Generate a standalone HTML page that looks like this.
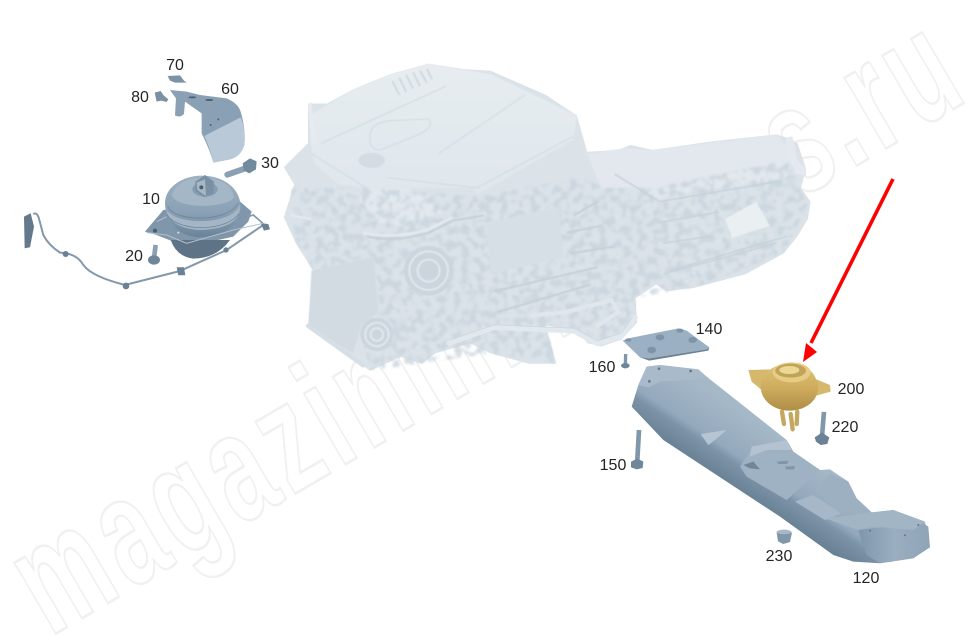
<!DOCTYPE html>
<html><head><meta charset="utf-8"><style>
html,body{margin:0;padding:0;background:#fff}
svg{display:block}
.l{font:16px "Liberation Sans",sans-serif;fill:#252525;text-anchor:middle}
</style></head><body>
<svg width="975" height="644" viewBox="0 0 975 644" xmlns="http://www.w3.org/2000/svg">
<defs>
<linearGradient id="bar" gradientUnits="userSpaceOnUse" x1="400" y1="488" x2="510" y2="322"><stop offset="0" stop-color="#6a8296"/><stop offset=".3" stop-color="#7d94a8"/><stop offset=".42" stop-color="#94a9bc"/><stop offset="1" stop-color="#a5b8c8"/></linearGradient>
<linearGradient id="end" x1="0" y1="0" x2="1" y2="0"><stop offset="0" stop-color="#7f96aa"/><stop offset=".5" stop-color="#9aaec0"/><stop offset="1" stop-color="#8ea4b7"/></linearGradient>
<linearGradient id="gold" x1="0" y1="0" x2="0" y2="1"><stop offset="0" stop-color="#e0c479"/><stop offset=".55" stop-color="#cdaa5c"/><stop offset="1" stop-color="#ae8e46"/></linearGradient>
<linearGradient id="dome" x1="0" y1="0" x2="0" y2="1"><stop offset="0" stop-color="#9db0c1"/><stop offset=".6" stop-color="#8aa1b5"/><stop offset="1" stop-color="#6b8398"/></linearGradient>
<linearGradient id="eng" x1="0" y1="0" x2="0" y2="1"><stop offset="0" stop-color="#e6ecf0"/><stop offset="1" stop-color="#e0e7ec"/></linearGradient>
<filter id="soft" x="-5%" y="-5%" width="110%" height="110%"><feGaussianBlur stdDeviation="1.8"/></filter>
<filter id="mot" x="0" y="0" width="100%" height="100%">
<feTurbulence type="fractalNoise" baseFrequency=".045" numOctaves="2" seed="7" result="n"/>
<feColorMatrix in="n" type="matrix" values="0 0 0 0 0  0 0 0 0 0  0 0 0 0 0  0 0 0 5 -2.2" result="a"/>
<feComposite in="SourceGraphic" in2="a" operator="in"/>
<feGaussianBlur stdDeviation="3"/>
</filter>
</defs>
<rect width="975" height="644" fill="#fff"/>

<!-- watermark -->
<g transform="translate(50,637) rotate(-30.3) scale(1,1.6)">
<text x="0" y="0" font-family="Liberation Sans, sans-serif" font-weight="bold" font-size="97" textLength="1065" lengthAdjust="spacing" fill="#fff" stroke="#f0f0f0" stroke-width="1.6">magazinmmmmes.ru</text>
</g>

<!-- engine + transmission -->
<g transform="translate(270,50) scale(.3448)">
<path fill="#dbe3e9" d="M110 155L165 155 240 115 350 70 460 40 560 55 640 60 800 130 890 190 920 295 1010 290 1045 275 1110 290 1280 265 1470 245 1500 255 1530 270 1555 345 1540 400 1568 440 1560 490 1530 540 1490 590 1380 650 1230 690 1150 700 1120 680 1060 720 1065 790 1020 840 960 860 920 850 890 810 800 800 830 910 750 910 640 880 580 850 480 880 440 910 380 890 290 930 230 890 110 800 125 640 75 560 40 485 70 390 40 340 110 270Z"/>
<g filter="url(#soft)">
<path fill="url(#eng)" d="M120 290L115 190 240 115 350 70 460 40 640 70 890 190 880 260 600 420 590 400 280 400 200 390 130 330Z"/>
<path fill="#e3e9ee" d="M280 400L400 400 500 470 380 510 300 500 260 430Z"/>
<path fill="#e2e8ed" d="M920 300L1030 285 1110 290 1470 245 1510 290 1510 370 1300 400 1130 430 1050 400 960 400Z"/>
<path fill="none" stroke="#cdd7df" stroke-width="5" d="M355 90L375 130M375 80L395 122M395 72L415 112M415 65L435 105M435 60L455 95M455 55L470 85"/>
<path fill="none" stroke="#d5dee5" stroke-width="4" d="M150 270L510 105M290 250Q290 210 350 205L460 200Q480 225 420 250L320 290Q285 290 290 250M490 300L740 130M600 400L880 250M280 400L120 300M340 370L600 400"/>
<ellipse cx="295" cy="320" rx="38" ry="22" fill="#d3dce3"/>
</g>
<!-- soft mottled detail, lower engine -->
<path filter="url(#mot)" fill="#c7d2db" opacity=".75" d="M60 400L280 400 600 425 900 370 970 400 1110 400 1500 320 1560 450 1490 590 1230 690 1060 720 1060 790 960 860 890 810 800 800 830 910 640 880 440 910 290 930 260 800 320 760 300 600 125 640 75 560Z"/>
<g filter="url(#soft)">
<path fill="#d2dbe2" d="M120 640L300 600 315 760 265 800 240 880 112 800Z"/>
<path fill="#d6dfe6" d="M630 500L840 455 850 600 640 650Z"/>
<circle cx="460" cy="640" r="72" fill="#cbd5de"/><circle cx="310" cy="825" r="48" fill="#cbd5de"/>
<g fill="none" stroke="#e0e7ec" stroke-width="6"><circle cx="460" cy="640" r="56"/><circle cx="460" cy="640" r="32"/><circle cx="310" cy="825" r="34"/><circle cx="310" cy="825" r="18"/></g>
<path fill="#eaeff2" d="M1320 490L1410 440 1450 510 1340 545Z"/>
<path fill="none" stroke="#c5d0da" stroke-width="4" d="M1000 360L1130 440M1130 440L1480 380M1160 640L1500 540M1140 650L1470 560M1130 500L1300 470M1140 560L1280 540"/>
<path fill="none" stroke="#c5d0da" stroke-width="6" d="M280 540Q360 560 460 530L530 495 620 480M880 480L950 440M860 530L960 510M870 590L1000 570M650 700L950 630M660 760L930 680"/>
<path fill="none" stroke="#e3e9ee" stroke-width="8" d="M60 480L120 490M270 530Q360 550 460 520L530 485"/>
</g>
<path fill="none" stroke="#e2e9ee" stroke-width="14" stroke-linecap="round" d="M520 850L650 805 880 815 950 852 1020 830 1060 775"/>
<path fill="none" stroke="#c9d4dd" stroke-width="2" d="M520 842L650 797 880 807 950 843 1020 820 1052 775"/>
<path fill="none" stroke="#e0e7ec" stroke-width="12" stroke-linecap="round" d="M760 770L860 760 990 725 1010 760 950 800"/>
<path fill="none" stroke="#d6dfe6" stroke-width="12" stroke-linecap="round" d="M110 800L270 915"/>
<path fill="#e3e9ee" d="M1495 255L1515 250 1530 320 1555 345 1555 365 1525 360 1500 300Z"/>
<path fill="#e5ebf0" d="M110 160L120 150 135 270 120 280Z"/>
</g>

<!-- bracket 60, 70, 80, 30 -->
<g transform="scale(.3333) translate(0,120)">
<path fill="#8aa0b4" d="M510 150L560 155 600 165 680 175Q715 190 722 215 738 270 733 315 722 350 690 358L640 368Q632 335 605 280L605 220 555 185 552 222Q540 235 525 226L528 175Z"/>
<path fill="#b9c9d7" d="M613 288L722 232Q738 270 733 315 722 350 690 358L640 368Q632 330 613 288Z"/>
<ellipse cx="577" cy="172" rx="12" ry="3" fill="#4c5f70"/><ellipse cx="628" cy="180" rx="12" ry="3" fill="#4c5f70"/>
<circle cx="655" cy="238" r="3" fill="#50616f"/><circle cx="632" cy="255" r="3" fill="#50616f"/>
<path fill="#7d92a5" d="M503 108L540 106 552 122 560 128 525 128 510 122Z"/>
<path fill="#7b90a3" d="M464 158L482 153 490 165 505 178 500 186 484 182 470 185Z"/>
<path stroke="#8ba0b3" stroke-width="18" stroke-linecap="round" d="M682 404L745 382"/>
<path fill="#728a9e" d="M728 370L750 355 770 364 768 388 748 400 732 392Z"/>
</g>

<!-- engine mount 10, 20, wire -->
<g transform="scale(.3333) translate(0,120)">
<path fill="none" stroke="#8298ab" stroke-width="6" stroke-linejoin="round" d="M100 522Q112 515 118 540L130 585Q145 615 180 638 230 640 250 675 275 710 375 735L540 693 680 630 790 555"/>
<path fill="none" stroke="#8298ab" stroke-width="5" d="M690 570L730 535 760 525 800 560"/>
<path fill="#64798c" d="M72 530L92 520 102 560 90 622 74 625Z"/>
<circle cx="197" cy="642" r="9" fill="#6a8094"/><circle cx="378" cy="738" r="10" fill="#6a8094"/><path fill="#6a8094" d="M530 682L552 682 556 706 535 706Z"/><circle cx="678" cy="630" r="8" fill="#6a8094"/><path fill="#6a8094" d="M782 550L805 552 810 568 792 572Z"/>
<path fill="#8096aa" d="M435 575L490 510 715 480 755 515 745 545 700 590 610 610 520 605 470 585Z"/>
<path fill="#5e7386" d="M512 600Q530 650 580 656 650 655 690 600Z"/>
<path fill="url(#dome)" d="M495 490C495 440 550 407 605 407 665 407 720 440 722 500 722 560 660 592 605 592 545 592 497 555 495 490Z"/>
<path fill="#a4b6c6" d="M498 505C515 555 695 560 720 495 722 540 690 565 605 570 540 568 505 545 498 505Z"/>
<path fill="none" stroke="#6f869a" stroke-width="2.5" d="M503 498C520 548 690 548 715 488M500 525C540 578 680 575 718 520"/>
<path fill="#a4b7c7" d="M515 465C530 425 570 413 605 413 650 413 695 430 702 470 690 505 530 510 515 465Z"/>
<ellipse cx="615" cy="448" rx="38" ry="22" fill="#869db1"/>
<path fill="#7a91a5" d="M586 425L615 405 642 425 640 460 612 472 586 452Z"/>
<path fill="#a6b8c8" d="M590 428L615 418 618 468 592 450Z"/>
<circle cx="604" cy="442" r="6" fill="#4d5f6d"/>
<path fill="none" stroke="#b0c0cf" stroke-width="3" d="M440 578L500 585 560 610 700 570 790 550M470 545L500 530"/>
<circle cx="465" cy="572" r="6" fill="#4a5b6a"/><circle cx="535" cy="578" r="3" fill="#dbe3e9"/>
<path stroke="#8ba0b3" stroke-width="14" d="M467 615L462 655"/>
<ellipse cx="462" cy="660" rx="18" ry="14" fill="#6f8699"/>
</g>

<!-- plate 140 + bolt 160 + crossbar 120 etc. -->
<g transform="translate(580,310) scale(.3333)">
<path fill="#9bb0c2" d="M128 92L145 85 295 55 320 62 388 112 380 118 208 145 180 142Z"/>
<path fill="#6c8295" d="M180 142L208 145 380 118 388 112 385 122 208 152Z"/>
<g fill="#7d93a7"><ellipse cx="145" cy="90" rx="9" ry="5"/><ellipse cx="240" cy="82" rx="13" ry="9"/><ellipse cx="300" cy="62" rx="11" ry="6"/><ellipse cx="338" cy="90" rx="13" ry="9"/><ellipse cx="215" cy="120" rx="13" ry="10"/></g>
<path stroke="#8096a9" stroke-width="10" d="M137 132L136 165"/><ellipse cx="136" cy="167" rx="13" ry="8" fill="#6f8699"/>

<path fill="url(#bar)" d="M200 170L240 165 355 178 380 200 620 390 640 425 720 480 750 478 805 515 830 565 875 607 940 600 1035 635 1050 712 1000 745 900 760 820 755 760 735 600 620 250 390 155 290 175 225Z"/>
<path fill="#a9bbcb" d="M200 170L240 165 355 178 380 200 340 208 240 215 205 232 175 225Z"/>
<path fill="url(#end)" d="M835 660L880 655 1030 640 1045 650 1050 712 1000 745 900 760 860 735 845 695Z"/>
<path fill="#a2b5c5" d="M735 625L875 607 940 600 1035 635 1000 660 880 650 835 660Z"/>
<path fill="#a6b8c8" d="M645 575L700 555 785 610 735 630Z"/>
<path fill="#9cb0c2" d="M710 540L750 490 805 515 830 565 875 607 780 610 730 565Z"/>
<path fill="#9fb2c3" d="M500 440L515 410 620 390 640 425 720 480 665 530 620 570 500 500 480 470Z"/>
<path fill="#b3c3d1" d="M515 410L620 390 635 420 560 420 510 440Z"/>
<path fill="#6f869a" d="M490 465L520 455 540 478 510 475Z"/>
<path fill="#b5c5d2" d="M362 372L440 360 405 390 385 405Z"/>
<path fill="#7f96aa" d="M590 455L625 452 622 462 595 462ZM615 470L645 468 642 478 618 478Z"/>
<g fill="#60768a"><circle cx="237" cy="176" r="4"/><circle cx="332" cy="183" r="4"/><circle cx="208" cy="214" r="4"/><circle cx="870" cy="662" r="3"/><circle cx="975" cy="676" r="3"/><circle cx="1015" cy="645" r="3"/></g>

<path stroke="#c4a860" stroke-width="13" stroke-linecap="round" d="M606 305L612 342M632 312L638 358M652 305L650 342"/>
<path fill="#d5b86b" d="M505 180L585 178 600 215 545 240 515 215ZM690 200L750 225 752 245 705 258Z"/>
<path fill="url(#gold)" d="M542 225C545 185 590 160 630 160 680 160 712 190 714 235 712 275 675 302 625 302 580 300 540 270 542 225Z"/>
<ellipse cx="635" cy="187" rx="57" ry="30" fill="#e6cc84"/>
<ellipse cx="632" cy="182" rx="46" ry="21" fill="#c2a35a"/>
<ellipse cx="628" cy="180" rx="30" ry="12" fill="#ecd893"/>

<path stroke="#8096a9" stroke-width="14" d="M177 360L172 450"/><path fill="#70879b" d="M153 455L172 446 190 455 188 474 170 478 153 472Z"/>
<path stroke="#8096a9" stroke-width="14" d="M732 306L726 380"/><path fill="#6b8296" d="M704 382L726 368 748 382 742 402 722 405 708 395Z"/>
<path fill="#8096a9" d="M590 668L612 660 636 668 630 696 610 702 594 694Z"/>
<ellipse cx="612" cy="666" rx="22" ry="7" fill="#a7b9c9"/>
</g>

<!-- red arrow -->
<path stroke="#ff0000" stroke-width="3.6" d="M893 179L811 343"/>
<path fill="#ff0000" d="M803 362L806 343 811 347 817 352Z"/>

<g>
<text class="l" x="175" y="70">70</text>
<text class="l" x="140" y="102">80</text>
<text class="l" x="230" y="94">60</text>
<text class="l" x="270" y="168">30</text>
<text class="l" x="151" y="204">10</text>
<text class="l" x="134" y="261">20</text>
<text class="l" x="709" y="334">140</text>
<text class="l" x="602" y="372">160</text>
<text class="l" x="851" y="394">200</text>
<text class="l" x="845" y="432">220</text>
<text class="l" x="613" y="470">150</text>
<text class="l" x="779" y="561">230</text>
<text class="l" x="866" y="583">120</text>
</g>
</svg>
</body></html>
